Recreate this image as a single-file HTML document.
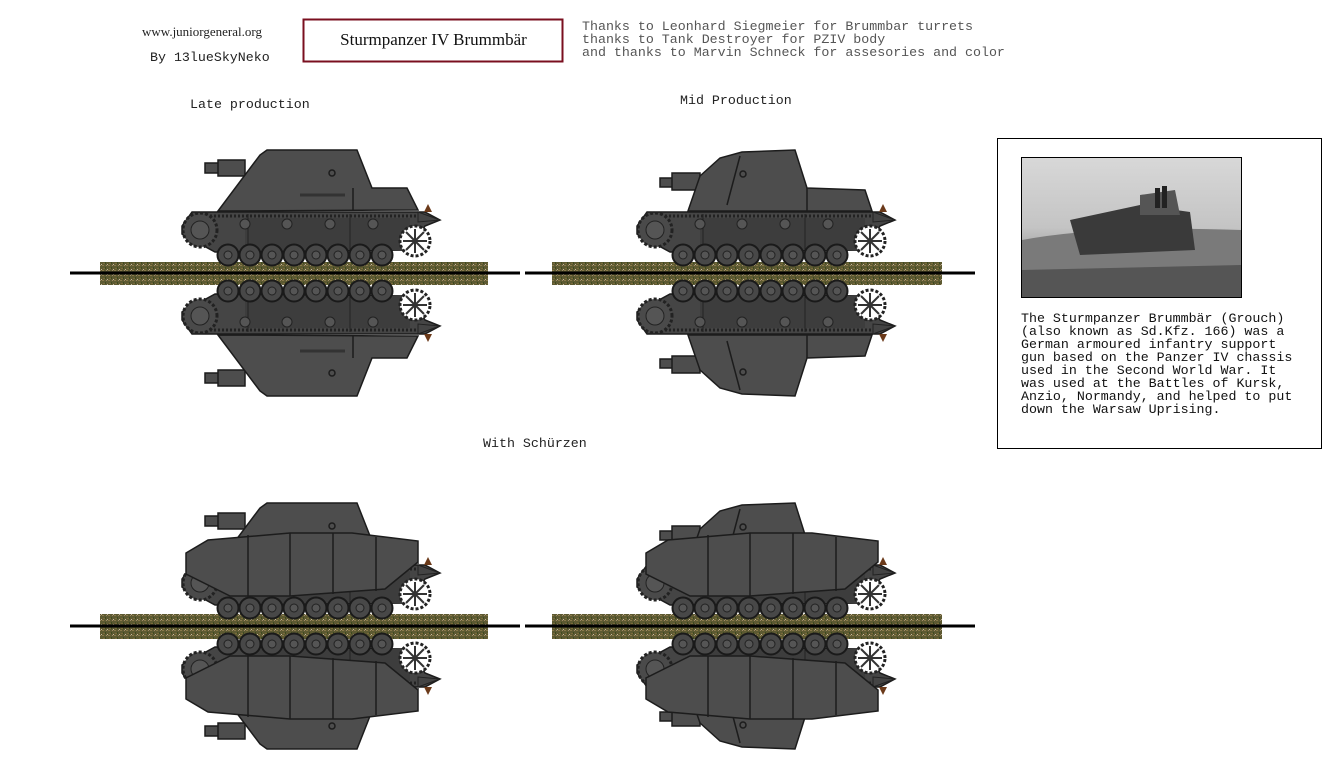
<!DOCTYPE html>
<html><head><meta charset="utf-8"><style>
html,body{margin:0;background:#fff;width:1334px;height:782px;overflow:hidden}
body{position:relative}
.t{position:absolute;white-space:pre;font-family:"Liberation Mono",monospace;font-size:13.3px;color:#222;line-height:13px}
.s{font-family:"Liberation Serif",serif}
</style></head><body>
<svg width="1334" height="782" style="position:absolute;left:0;top:0">
<defs>
<pattern id="gr" width="6" height="5" patternUnits="userSpaceOnUse">
<rect width="6" height="5" fill="#5d5a32"/><rect x="0" y="0" width="2" height="1" fill="#8a7a4a"/><rect x="3" y="2" width="1" height="2" fill="#3d4a22"/><rect x="4" y="0" width="1" height="1" fill="#a08a6a"/><rect x="1" y="3" width="2" height="1" fill="#7a6a3a"/><rect x="5" y="4" width="1" height="1" fill="#c8b8a0"/>
</pattern>
<g id="chassis">
<path d="M182 226 L192 212 L425 212 L440 220 L425 226 L410 250 L215 252 L182 234 Z" fill="#454545" stroke="#1c1c1c" stroke-width="1.5"/>
<line x1="190" y1="216" x2="420" y2="216" stroke="#222" stroke-width="3" stroke-dasharray="2 2"/>
<rect x="245" y="218" width="165" height="32" fill="#3d3d3d"/>
<line x1="248" y1="214" x2="248" y2="250" stroke="#222"/><line x1="350" y1="214" x2="350" y2="250" stroke="#222"/>
<circle cx="200" cy="230" r="17" fill="#4a4a4a" stroke="#222" stroke-width="3" stroke-dasharray="3 2"/>
<circle cx="200" cy="230" r="9" fill="#555" stroke="#222"/>
<circle cx="415" cy="241" r="15" fill="#fff" stroke="#222" stroke-width="3" stroke-dasharray="3 2"/>
<g stroke="#333" stroke-width="2"><line x1="403" y1="241" x2="427" y2="241"/><line x1="415" y1="229" x2="415" y2="253"/><line x1="406" y1="232" x2="424" y2="250"/><line x1="424" y1="232" x2="406" y2="250"/></g>
<g fill="#555" stroke="#222"><circle cx="245" cy="224" r="5"/><circle cx="287" cy="224" r="5"/><circle cx="330" cy="224" r="5"/><circle cx="373" cy="224" r="5"/></g>
<g fill="#484848" stroke="#1a1a1a" stroke-width="2"><circle cx="228" cy="255" r="10.5"/><circle cx="250" cy="255" r="10.5"/><circle cx="272" cy="255" r="10.5"/><circle cx="294" cy="255" r="10.5"/><circle cx="316" cy="255" r="10.5"/><circle cx="338" cy="255" r="10.5"/><circle cx="360" cy="255" r="10.5"/><circle cx="382" cy="255" r="10.5"/></g>
<g fill="#555" stroke="#222"><circle cx="228" cy="255" r="4"/><circle cx="250" cy="255" r="4"/><circle cx="272" cy="255" r="4"/><circle cx="294" cy="255" r="4"/><circle cx="316" cy="255" r="4"/><circle cx="338" cy="255" r="4"/><circle cx="360" cy="255" r="4"/><circle cx="382" cy="255" r="4"/></g>
<path d="M418 212 L440 220 L418 222 Z" fill="#444" stroke="#222"/>
<path d="M424 212 L428 204 L432 212 Z" fill="#6b3a1a"/>
</g>
<g id="supLate" fill="#4d4d4d" stroke="#1c1c1c" stroke-width="1.5">
<rect x="205" y="163" width="14" height="10"/><rect x="218" y="160" width="27" height="16"/>
<path d="M218 211 L260 155 L267 150 L357 150 L372 188 L407 188 L418 210 Z"/>
<line x1="353" y1="188" x2="353" y2="210"/>
<path d="M300 195 L345 195" stroke="#333" stroke-width="3"/>
<circle cx="332" cy="173" r="3" fill="none"/>
</g>
<g id="supMid" fill="#4d4d4d" stroke="#1c1c1c" stroke-width="1.5">
<rect x="660" y="178" width="13" height="9"/><rect x="672" y="173" width="28" height="17"/>
<path d="M688 211 L700 176 L720 158 L742 152 L795 150 L807 188 L865 190 L872 211 Z"/>
<line x1="807" y1="188" x2="807" y2="211"/><line x1="740" y1="156" x2="727" y2="205"/>
<circle cx="743" cy="174" r="3" fill="none"/>
</g>
<g id="skirt" fill="#4d4d4d" stroke="#1c1c1c" stroke-width="1.5">
<path d="M186 200 L208 187 L290 180 L352 180 L418 188 L418 209 L385 236 L290 243 L230 243 L186 221 Z"/>
<g fill="none"><line x1="248" y1="182" x2="248" y2="243"/><line x1="290" y1="180" x2="290" y2="243"/><line x1="333" y1="180" x2="333" y2="241"/><line x1="376" y1="184" x2="376" y2="238"/></g>
</g>
<g id="late"><use href="#chassis"/><use href="#supLate"/></g>
<g id="mid"><use href="#chassis" transform="translate(455,0)"/><use href="#supMid"/></g>
</defs>

<rect x="100" y="262" width="388" height="23" fill="url(#gr)"/>
<rect x="552" y="262" width="390" height="23" fill="url(#gr)"/>
<rect x="100" y="614" width="388" height="25" fill="url(#gr)"/>
<rect x="552" y="614" width="390" height="25" fill="url(#gr)"/>

<use href="#late"/><use href="#late" transform="translate(0,546) scale(1,-1)"/>
<use href="#mid"/><use href="#mid" transform="translate(0,546) scale(1,-1)"/>

<g transform="translate(0,353)"><use href="#late"/><use href="#skirt"/></g>
<g transform="translate(0,899) scale(1,-1)"><use href="#late"/><use href="#skirt"/></g>
<g transform="translate(0,353)"><use href="#mid"/><use href="#skirt" transform="translate(460,0)"/></g>
<g transform="translate(0,899) scale(1,-1)"><use href="#mid"/><use href="#skirt" transform="translate(460,0)"/></g>

<g stroke="#000" stroke-width="3">
<line x1="70" y1="273" x2="520" y2="273"/><line x1="525" y1="273" x2="975" y2="273"/>
<line x1="70" y1="626" x2="520" y2="626"/><line x1="525" y1="626" x2="975" y2="626"/>
</g>

<rect x="303.5" y="19.5" width="259" height="42" fill="none" stroke="#7a0f1f" stroke-width="2"/>
<rect x="997.5" y="138.5" width="324" height="310" fill="none" stroke="#000"/>
<defs><linearGradient id="sky" x1="0" y1="0" x2="0" y2="1"><stop offset="0" stop-color="#d8d8d8"/><stop offset="0.5" stop-color="#c4c4c4"/><stop offset="1" stop-color="#6a6a6a"/></linearGradient></defs>
<rect x="1021.5" y="157.5" width="220" height="140" fill="url(#sky)" stroke="#000"/>
<path d="M1022 240 Q1100 225 1241 230 L1241 297 L1022 297 Z" fill="#7a7a7a"/>
<path d="M1070 220 L1140 205 L1190 212 L1195 250 L1080 255 Z" fill="#3a3a3a"/>
<path d="M1140 195 L1175 190 L1180 215 L1140 215 Z" fill="#555"/>
<rect x="1155" y="188" width="5" height="20" fill="#222"/><rect x="1162" y="186" width="5" height="22" fill="#222"/>
<path d="M1022 270 L1241 265 L1241 297 L1022 297 Z" fill="#555"/>
</svg>

<div class="t s" style="left:142px;top:25px;font-size:13px">www.juniorgeneral.org</div>
<div class="t" style="left:150px;top:51px">By 13lueSkyNeko</div>
<div class="t s" style="left:303px;top:31px;width:261px;text-align:center;font-size:17px;line-height:18px;color:#111">Sturmpanzer IV Brummbär</div>
<div class="t" style="left:582px;top:20px;color:#555">Thanks to Leonhard Siegmeier for Brummbar turrets
thanks to Tank Destroyer for PZIV body
and thanks to Marvin Schneck for assesories and color</div>
<div class="t" style="left:190px;top:98px">Late production</div>
<div class="t" style="left:680px;top:94px">Mid Production</div>
<div class="t" style="left:483px;top:437px">With Schürzen</div>
<div class="t" style="left:1021px;top:312px;color:#111">The Sturmpanzer Brummbär (Grouch)
(also known as Sd.Kfz. 166) was a
German armoured infantry support
gun based on the Panzer IV chassis
used in the Second World War. It
was used at the Battles of Kursk,
Anzio, Normandy, and helped to put
down the Warsaw Uprising.</div>
</body></html>
